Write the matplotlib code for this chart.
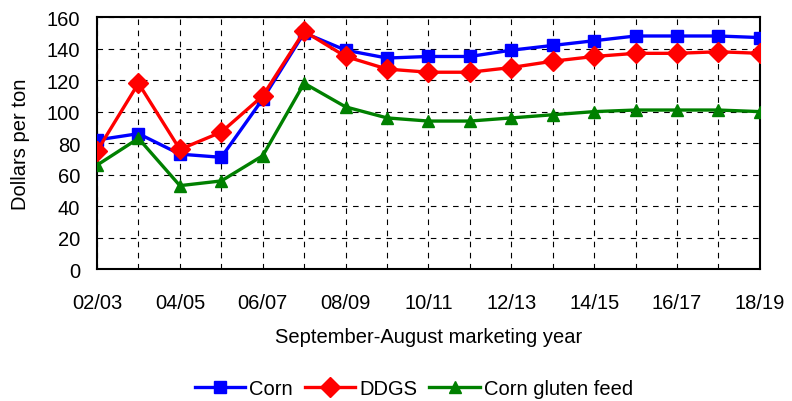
import matplotlib
matplotlib.use('Agg')
import matplotlib.pyplot as plt
import numpy as np

plt.rcParams['font.family'] = ['Liberation Sans', 'DejaVu Sans']

years = ['02/03', '03/04', '04/05', '05/06', '06/07', '07/08', '08/09', '09/10',
         '10/11', '11/12', '12/13', '13/14', '14/15', '15/16', '16/17', '17/18', '18/19']
corn = [82, 86, 73, 71, 108, 150, 139, 134, 135, 135, 139, 142, 145, 148, 148, 148, 147]
ddgs = [75, 118, 76, 87, 110, 151, 135, 127, 125, 125, 128, 132, 135, 137, 137, 138, 137]
gluten = [66, 83, 53, 56, 72, 118, 103, 96, 94, 94, 96, 98, 100, 101, 101, 101, 100]

fig = plt.figure(figsize=(7.92, 4.02), dpi=100)
ax = fig.add_axes([0.1225, 0.328, 0.837, 0.627])

x = np.arange(len(years))
ax.plot(x, corn, color='#0000ff', lw=2.4, marker='s', ms=9, label='Corn', zorder=3)
ax.plot(x, ddgs, color='#ff0000', lw=2.4, marker='D', ms=10, label='DDGS', zorder=4)
ax.plot(x, gluten, color='#008000', lw=2.4, marker='^', ms=9, label='Corn gluten feed', zorder=3)

ax.set_xlim(0, len(years) - 1)
ax.set_ylim(0, 160)
ax.set_yticks(range(0, 161, 20))
ax.set_xticks(x)
ax.set_xticklabels([y if i % 2 == 0 else '' for i, y in enumerate(years)])
ax.tick_params(length=0, labelsize=14.5)
ax.tick_params(axis='y', pad=12)
ax.tick_params(axis='x', pad=17)
ax.grid(True, color='black', linestyle=(0, (5, 5)), lw=0.8)
for s in ax.spines.values():
    s.set_linewidth(1.5)
ax.set_axisbelow(True)

ax.set_ylabel('Dollars per ton', fontsize=14.5, labelpad=12)
ax.set_xlabel('September-August marketing year', fontsize=14.5, labelpad=11)

ax.legend(loc='upper center', bbox_to_anchor=(0.478, -0.405), ncol=3, frameon=False,
          fontsize=14.5, handlelength=2.5, handletextpad=0.2, columnspacing=0.6,
          borderaxespad=0)

fig.savefig('out.png', dpi=100)
